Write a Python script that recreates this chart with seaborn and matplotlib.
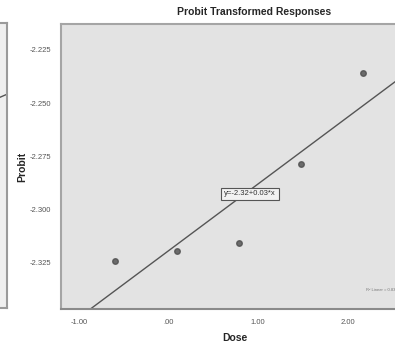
import numpy as np
import pandas as pd
import matplotlib
matplotlib.use("Agg")
import matplotlib.pyplot as plt
import seaborn as sns

# data
dose = [-0.60, 0.09, 0.79, 1.48, 2.17]
probit = [-2.3240, -2.3194, -2.3156, -2.2783, -2.2358]
x_ticks = [-1.0, 0.0, 1.0, 2.0]
x_tick_labels = ["-1.00", ".00", "1.00", "2.00"]
y_ticks = [-2.325, -2.300, -2.275, -2.250, -2.225]
y_tick_labels = ["-2.325", "-2.300", "-2.275", "-2.250", "-2.225"]

# neighbouring panel (only its right edge is visible)
left_x = [0.0, 1.0]
left_y = [-0.37, 0.0]

df = pd.DataFrame({"Dose": dose, "Probit": probit})

sns.set_style("white")
plt.rcParams["font.family"] = ["Liberation Sans Narrow", "Liberation Sans", "DejaVu Sans"]

fig = plt.figure(figsize=(3.95, 3.43), dpi=100)
fig.patch.set_facecolor("white")

# left-hand neighbour panel, mostly outside the figure
axl = fig.add_axes([-0.5, 35 / 343, 0.5 + 7 / 395, 285 / 343])
axl.set_facecolor("#efefef")
axl.plot(left_x, left_y, color="#555555", lw=1)
axl.set_xlim(0, 1)
axl.set_ylim(-0.9, 0.3)
axl.set_xticks([])
axl.set_yticks([])
axl.set_zorder(0)
for s in axl.spines.values():
    s.set_color("#9a9a9a")
    s.set_linewidth(1.5)

# main panel
ax = fig.add_axes([61 / 395, 34 / 343, 386 / 395, 285 / 343])
ax.set_zorder(1)
ax.set_facecolor("#e3e3e3")
ax.set_xlim(-1.2, 3.11)
ax.set_ylim(-2.3466, -2.2128)

sns.regplot(data=df, x="Dose", y="Probit", ax=ax, ci=None, truncate=False,
            scatter_kws={"s": 16, "color": "#4d4d4d", "edgecolor": "#4d4d4d", "zorder": 3},
            line_kws={"color": "#555555", "lw": 1})

ax.set_xticks(x_ticks)
ax.set_xticklabels(x_tick_labels)
ax.set_yticks(y_ticks)
ax.set_yticklabels(y_tick_labels)
ax.tick_params(axis="both", length=0, labelsize=5.5, labelcolor="#555555", pad=7)

for name, s in ax.spines.items():
    s.set_color("#a5a5a5")
    s.set_linewidth(1.5)
ax.spines["bottom"].set_color("#8a8a8a")

ax.set_xlabel("Dose", fontsize=7.5, fontweight="bold")
ax.set_ylabel("Probit", fontsize=7.5, fontweight="bold")
ax.xaxis.set_label_coords((235 - 61) / 386, -(338 - 309) / 285)
ax.xaxis.label.set_verticalalignment("center")
ax.yaxis.set_label_coords(-(61 - 22) / 386, 0.5)
ax.yaxis.label.set_verticalalignment("center")

ax.text(0.91, -2.2925, "y=-2.32+0.03*x", fontsize=5.5, ha="center", va="center",
        color="#333333",
        bbox=dict(boxstyle="square,pad=0.35", facecolor="#f2f2f2", edgecolor="#555555", lw=0.8))
# cut off at the right edge in the reference as well
ax.text(2.2, -2.3375, "R\u00b2 Linear = 0.830", fontsize=3, color="#777777",
        ha="left", va="center")

fig.text(254 / 395, 1 - 12 / 343, "Probit Transformed Responses", fontsize=7.5,
         fontweight="bold", ha="center", va="center")

fig.savefig("out.png", dpi=100)
